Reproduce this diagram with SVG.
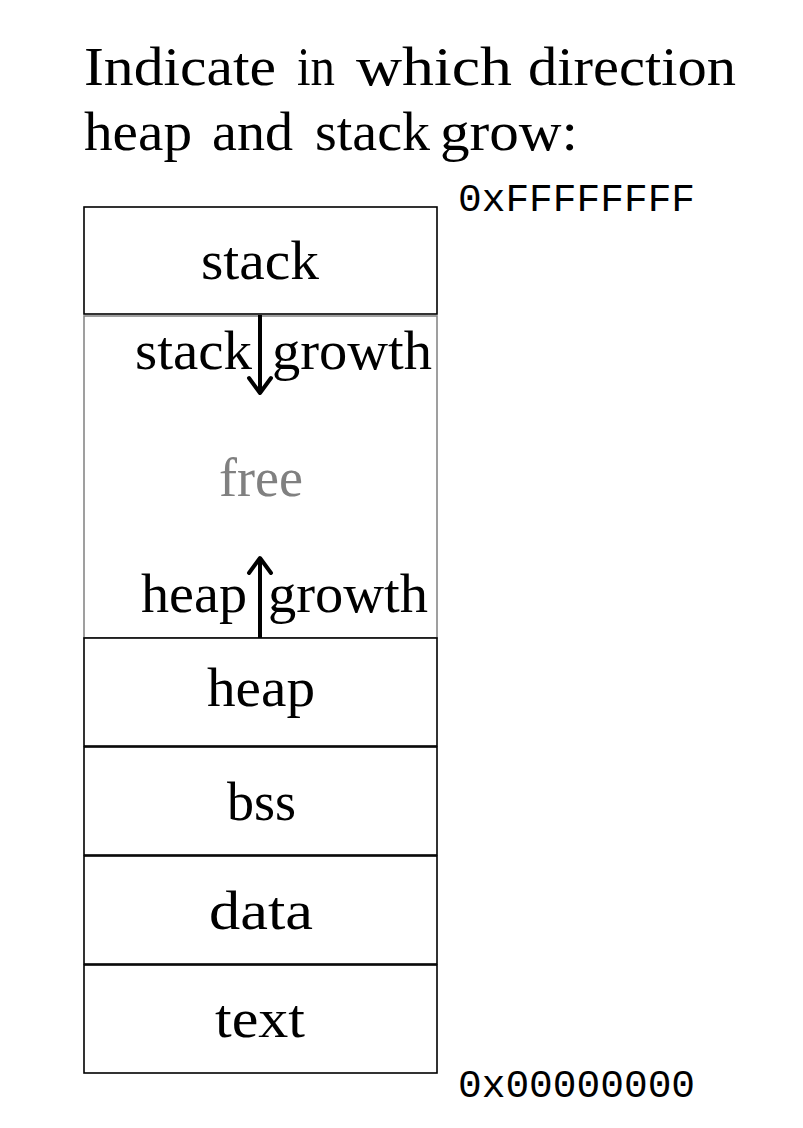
<svg xmlns="http://www.w3.org/2000/svg" width="803" height="1128" viewBox="0 0 803 1128">
<style>
.t{font-family:"Liberation Serif","DejaVu Serif",serif;font-size:54px;fill:#000}
.lbl{font-family:"Liberation Serif","DejaVu Serif",serif;font-size:54px;fill:#000;text-anchor:middle}
.mono{font-family:"Liberation Mono","DejaVu Sans Mono",monospace;font-size:39.5px;fill:#000}
.box{fill:#fff;stroke:#000;stroke-width:1.6}
.free{fill:#fff;stroke:#888;stroke-width:1.6}
.arr{stroke:#000;stroke-width:4;fill:none}
</style>
<rect width="803" height="1128" fill="#fff"/>
<g id="title">
<text class="t" x="84" y="85" textLength="192" lengthAdjust="spacingAndGlyphs">Indicate</text>
<text class="t" x="297" y="85" textLength="38" lengthAdjust="spacingAndGlyphs">in</text>
<text class="t" x="356" y="85" textLength="156" lengthAdjust="spacingAndGlyphs">which</text>
<text class="t" x="528" y="85" textLength="208" lengthAdjust="spacingAndGlyphs">direction</text>
<text class="t" x="84" y="150" textLength="108" lengthAdjust="spacingAndGlyphs">heap</text>
<text class="t" x="212" y="150" textLength="81" lengthAdjust="spacingAndGlyphs">and</text>
<text class="t" x="315" y="150" textLength="115" lengthAdjust="spacingAndGlyphs">stack</text>
<text class="t" x="440" y="150" textLength="138" lengthAdjust="spacingAndGlyphs">grow:</text>
</g>
<text class="mono" x="458" y="211">0xFFFFFFFF</text>
<text class="mono" x="458" y="1097">0x00000000</text>
<g id="free">
<rect class="free" x="84" y="316" width="353" height="322"/>
<text class="t" x="219" y="496" textLength="84" lengthAdjust="spacingAndGlyphs" style="fill:#808080">free</text>
</g>
<g id="stack"><rect class="box" x="84" y="207" width="353" height="107"/><text class="t" x="201" y="279" textLength="118" lengthAdjust="spacingAndGlyphs">stack</text></g>
<g id="heap"><rect class="box" x="84" y="638" width="353" height="108"/><text class="t" x="207" y="706" textLength="108" lengthAdjust="spacingAndGlyphs">heap</text></g>
<g id="bss"><rect class="box" x="84" y="747" width="353" height="108"/><text class="t" x="227" y="820" textLength="69" lengthAdjust="spacingAndGlyphs">bss</text></g>
<g id="data"><rect class="box" x="84" y="856" width="353" height="108"/><text class="t" x="209" y="929" textLength="104" lengthAdjust="spacingAndGlyphs">data</text></g>
<g id="text"><rect class="box" x="84" y="965" width="353" height="108"/><text class="t" x="215" y="1037" textLength="90" lengthAdjust="spacingAndGlyphs">text</text></g>
<g id="connectors">
<line class="arr" x1="260" y1="315" x2="260" y2="391"/>
<polyline class="arr" points="249,378 260,393 271,378" stroke-linejoin="round" stroke-linecap="round"/>
<line class="arr" x1="260" y1="638" x2="260" y2="560"/>
<polyline class="arr" points="249,573 260,558 271,573" stroke-linejoin="round" stroke-linecap="round"/>
</g>
<text class="t" x="135" y="369" textLength="117" lengthAdjust="spacingAndGlyphs">stack</text>
<text class="t" x="272" y="369" textLength="160" lengthAdjust="spacingAndGlyphs">growth</text>
<text class="t" x="141" y="612" textLength="106" lengthAdjust="spacingAndGlyphs">heap</text>
<text class="t" x="268" y="612" textLength="160" lengthAdjust="spacingAndGlyphs">growth</text>
</svg>
